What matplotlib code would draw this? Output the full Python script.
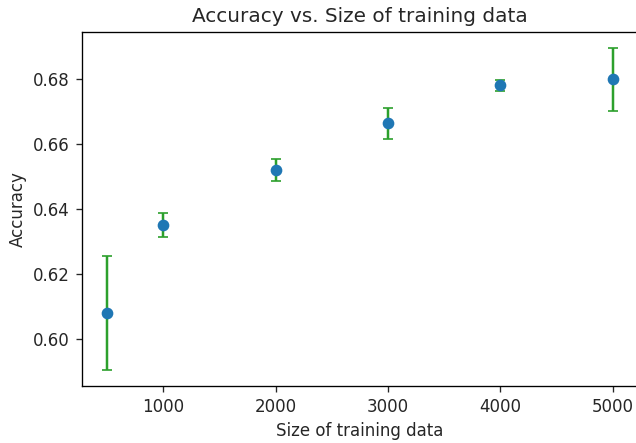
import numpy as np
import matplotlib
matplotlib.use("Agg")
from matplotlib import pyplot as plt

sizes = [500, 1000, 2000, 3000, 4000, 5000]
accuracy = [0.6080, 0.6350, 0.6521, 0.6664, 0.6781, 0.6800]
acc_err = [0.0175, 0.0037, 0.0033, 0.0047, 0.0016, 0.0097]

s = 1.2  # scale from the original rendering

plt.rcParams["font.size"] = 12
plt.rcParams["axes.linewidth"] = 0.8 * s
plt.rcParams["xtick.major.size"] = 3.5 * s
plt.rcParams["ytick.major.size"] = 3.5 * s
plt.rcParams["xtick.major.width"] = 0.8 * s
plt.rcParams["ytick.major.width"] = 0.8 * s
plt.rcParams["xtick.major.pad"] = 3.5 * s
plt.rcParams["ytick.major.pad"] = 3.5 * s
plt.rcParams["text.color"] = "#262626"
plt.rcParams["xtick.color"] = "#262626"
plt.rcParams["ytick.color"] = "#262626"
plt.rcParams["axes.labelcolor"] = "#262626"

fig = plt.figure(figsize=(6.36, 4.43), dpi=100)
ax = fig.add_axes([81.7 / 636, 57 / 443, 556.5 / 636, 354.3 / 443])

ax.errorbar(sizes, accuracy, yerr=acc_err, fmt="o", color="C0",
            ecolor="C2", elinewidth=1.5 * s, capsize=3.8, capthick=1.5 * s,
            markersize=6 * s, markeredgewidth=1 * s)

ax.set_title("Accuracy vs. Size of training data", fontsize=14.4, pad=6 * s)
ax.set_xlabel("Size of training data", labelpad=4 * s)
ax.set_ylabel("Accuracy", labelpad=4 * s)
ax.set_yticks([0.60, 0.62, 0.64, 0.66, 0.68])

fig.savefig("out.png", dpi=100)
